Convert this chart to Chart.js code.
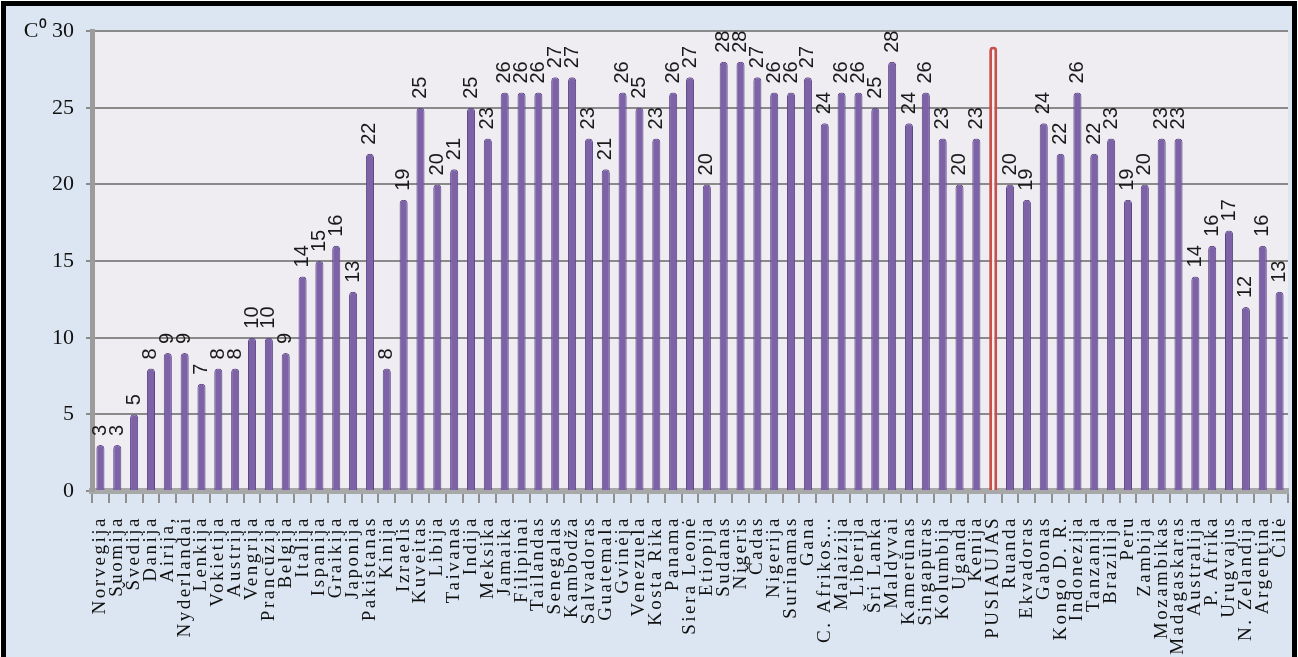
<!DOCTYPE html>
<html>
<head>
<meta charset="utf-8">
<script src="https://cdn.jsdelivr.net/npm/chart.js@4/dist/chart.umd.min.js"></script>
<style>
  body { margin: 0; background: #ffffff; }
  #moldura {
    position: absolute; left: 1px; top: 1px;
    width: 1296px; height: 664px;
    box-sizing: border-box;
    border: 5px solid #000;
    background: #dce6f2;
  }
  #cvs_temperaturas { position: absolute; left: 0; top: 0; }
</style>
</head>
<body>
<div id="moldura">
  <canvas id="cvs_temperaturas" width="1286" height="651"></canvas>
</div>
<script>
// valores (temperatura média, C°)
const paises = [
  "Norvegija", "Suomija", "Švedija", "Danija", "Airija,", "Nyderlandai", "Lenkija", "Vokietija",
  "Austrija", "Vengrija", "Prancūzija", "Belgija", "Italija", "Ispanija", "Graikija", "Japonija",
  "Pakistanas", "Kinija", "Izraelis", "Kuveitas", "Libija", "Taivanas", "Indija", "Meksika",
  "Jamaika", "Filipinai", "Tailandas", "Senegalas", "Kambodža", "Salvadoras", "Guatemala", "Gvinėja",
  "Venezuela", "Kosta Rika", "Panama", "Siera Leonė", "Etiopija", "Sudanas", "Nigeris", "Čadas",
  "Nigerija", "Surinamas", "Gana", "C. Afrikos...", "Malaizija", "Liberija", "Šri Lanka", "Maldyvai",
  "Kamerūnas", "Singapūras", "Kolumbija", "Uganda", "Kenija", "PUSIAUJAS", "Ruanda", "Ekvadoras",
  "Gabonas", "Kongo D. R.", "Indonezija", "Tanzanija", "Brazilija", "Peru", "Zambija", "Mozambikas",
  "Madagaskaras", "Australija", "P. Afrika", "Urugvajus", "N. Zelandija", "Argentina", "Čilė"
];

const temperaturas = [
  3, 3, 5, 8, 9, 9, 7, 8,
  8, 10, 10, 9, 14, 15, 16, 13,
  22, 8, 19, 25, 20, 21, 25, 23,
  26, 26, 26, 27, 27, 23, 21, 26,
  25, 23, 26, 27, 20, 28, 28, 27,
  26, 26, 27, 24, 26, 26, 25, 28,
  24, 26, 23, 20, 23, 29, 20, 19,
  24, 22, 26, 22, 23, 19, 20, 23,
  23, 14, 16, 17, 12, 16, 13
];

const marcasY = [0, 5, 10, 15, 20, 25, 30];

const DESTAQUE = "PUSIAUJAS";

const ctx = document.getElementById("cvs_temperaturas");

// cores de cada barra (pusiaujas fica só com contorno vermelho)
var coresFundo = paises.map((p) => (p == DESTAQUE ? "#f4f1f4" : "#7d62a8"));
var coresBorda = paises.map((p) => (p == DESTAQUE ? "#c8504b" : "#5b4683"));
var largBorda = paises.map((p) => (p == DESTAQUE ? 3 : 1));

// fundo da área do gráfico
const fundoArea = {
  id: "fundoArea",
  beforeDraw(chart) {
    const a = chart.chartArea;
    const c = chart.ctx;
    c.save();
    c.fillStyle = "#efedf2";
    c.fillRect(a.left, a.top, a.right - a.left, a.bottom - a.top);
    c.restore();
  },
};

// rótulos do eixo X (verticais) e valores acima das barras
const rotulos = {
  id: "rotulos",
  afterDraw(chart) {
    const c = chart.ctx;
    const x = chart.scales.x;
    const a = chart.chartArea;

    // nomes dos países
    c.save();
    c.font = "19px 'Liberation Serif'";
    c.fillStyle = "#111";
    c.letterSpacing = "2.5px";
    c.textAlign = "right";
    c.textBaseline = "middle";
    for (let i = 0; i < paises.length; i++) {
      const px = x.getPixelForValue(i);
      c.save();
      c.translate(px, a.bottom + 25);
      c.rotate(-Math.PI / 2);
      c.fillText(paises[i], 0, 0);
      c.restore();
    }
    c.restore();

    // valores
    const meta = chart.getDatasetMeta(0);
    c.save();
    c.font = "20px 'Liberation Sans'";
    c.fillStyle = "#1a1a1a";
    c.textAlign = "left";
    c.textBaseline = "middle";
    for (let i = 0; i < meta.data.length; i++) {
      if (paises[i] == DESTAQUE) continue;
      const barra = meta.data[i];
      c.save();
      c.translate(barra.x, barra.y - 9);
      c.rotate(-Math.PI / 2);
      c.fillText(String(temperaturas[i]), 0, 0);
      c.restore();
    }
    c.restore();
  },
};

new Chart(ctx, {
  type: "bar",
  data: {
    labels: paises,
    datasets: [
      {
        data: temperaturas,
        backgroundColor: coresFundo,
        borderColor: coresBorda,
        borderWidth: largBorda,
        borderSkipped: "bottom",
        borderRadius: { topLeft: 4, topRight: 4 },
        categoryPercentage: 1,
        barPercentage: 0.48,
      },
    ],
  },
  options: {
    responsive: false,
    animation: false,
    layout: { padding: { top: 25, right: 4, left: 0, bottom: 0 } },
    plugins: { legend: { display: false }, tooltip: { enabled: false } },
    scales: {
      x: {
        ticks: { display: false },
        grid: {
          drawOnChartArea: false,
          drawTicks: true,
          tickLength: 12,
          color: "#8f8f8f",
          lineWidth: 2,
        },
        border: { display: true, color: "#a8a8a8", width: 6 },
        afterFit(scale) {
          scale.height = 166;
        },
      },
      y: {
        min: 0,
        max: 30,
        afterBuildTicks(scale) {
          scale.ticks = marcasY.map((v) => ({ value: v }));
        },
        ticks: {
          padding: 12,
          font: { family: "'Liberation Serif'", size: 22 },
          color: "#111",
          callback: (v) => (v == 30 ? "C⁰ 30" : v),
        },
        grid: { color: "#8a8a8a", lineWidth: 2, tickLength: 6 },
        border: { display: true, color: "#9c9c9c", width: 5 },
        afterFit(scale) {
          scale.width = 86;
        },
      },
    },
  },
  plugins: [fundoArea, rotulos],
});
</script>
</body>
</html>
